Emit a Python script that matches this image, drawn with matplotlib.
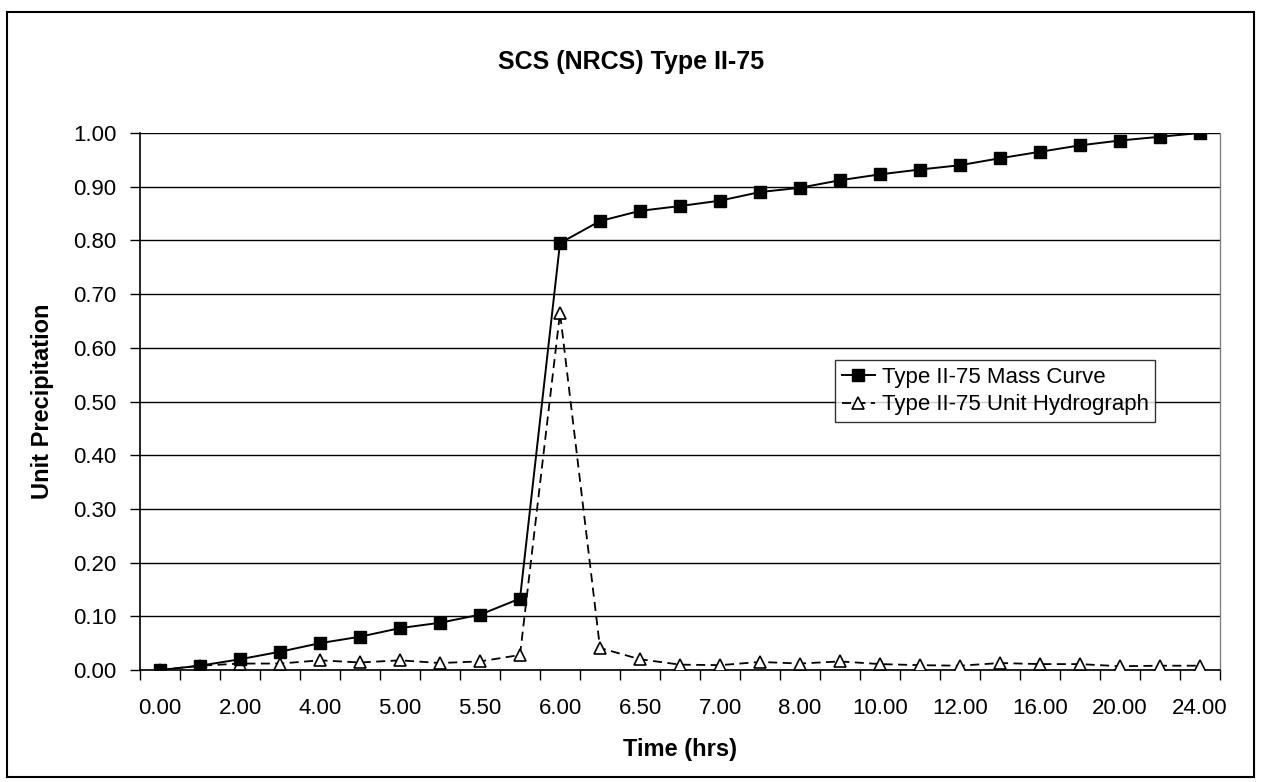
import numpy as np
import matplotlib
matplotlib.use('Agg')
matplotlib.rcParams['font.family'] = ['Liberation Sans', 'DejaVu Sans']
import matplotlib.pyplot as plt
from matplotlib.patches import Rectangle

# time categories (hrs); only every other one is labelled on the axis
times = ['0.00', '1.00', '2.00', '3.00', '4.00', '4.50', '5.00', '5.25', '5.50',
         '5.75', '6.00', '6.25', '6.50', '6.75', '7.00', '7.50', '8.00', '9.00',
         '10.00', '11.00', '12.00', '14.00', '16.00', '18.00', '20.00', '22.00', '24.00']

mass_curve = [0.000, 0.008, 0.020, 0.034, 0.050, 0.062, 0.078, 0.088, 0.103,
              0.133, 0.795, 0.836, 0.855, 0.864, 0.874, 0.890, 0.898, 0.912,
              0.923, 0.932, 0.940, 0.953, 0.965, 0.977, 0.986, 0.993, 1.000]

unit_hydro = [0.000, 0.008, 0.012, 0.012, 0.018, 0.014, 0.018, 0.013, 0.016,
              0.028, 0.665, 0.041, 0.020, 0.010, 0.009, 0.015, 0.012, 0.016,
              0.011, 0.009, 0.008, 0.013, 0.011, 0.011, 0.007, 0.008, 0.008]

y_ticks = [0.0, 0.1, 0.2, 0.3, 0.4, 0.5, 0.6, 0.7, 0.8, 0.9, 1.0]

fig = plt.figure(figsize=(12.62, 7.82), dpi=100)
ax = fig.add_axes([140 / 1262, 1 - 670 / 782, 1080 / 1262, 537 / 782])

x = np.arange(len(times))
ax.plot(x, mass_curve, color='black', lw=1.4, marker='s', markersize=8.5,
        markerfacecolor='black', markeredgecolor='black',
        label='Type II-75 Mass Curve', zorder=4)
ax.plot(x, unit_hydro, color='black', lw=1.3, linestyle=(0, (5, 3)), marker='^',
        markersize=8.5, markerfacecolor='white', markeredgecolor='black',
        markeredgewidth=1.2, label='Type II-75 Unit Hydrograph', zorder=3)

ax.set_xlim(-0.5, len(times) - 0.5)
ax.set_ylim(0, 1.0)
ax.set_yticks(y_ticks)
ax.set_yticklabels(['{:.2f}'.format(v) for v in y_ticks])
ax.yaxis.grid(True, color='black', lw=1.0)
ax.set_axisbelow(True)

# labels on every other category, tick marks on category boundaries
ax.set_xticks(x[::2])
ax.set_xticklabels(times[::2])
ax.tick_params(axis='x', which='major', length=0, pad=20, labelsize=16)
ax.set_xticks(np.arange(len(times) + 1) - 0.5, minor=True)
ax.tick_params(axis='x', which='minor', length=7, width=1, direction='out')
ax.tick_params(axis='y', length=7, width=1, direction='out', pad=10, labelsize=16)

for s in ['left', 'bottom']:
    ax.spines[s].set_color('black')
    ax.spines[s].set_linewidth(1.2)
ax.spines['top'].set_visible(False)
ax.spines['right'].set_color('#808080')
ax.spines['right'].set_linewidth(1.0)

ax.set_xlabel('Time (hrs)', fontsize=17, fontweight='bold', labelpad=14)
ax.set_ylabel('Unit Precipitation', fontsize=17, fontweight='bold', labelpad=14)

fig.text(0.5, 1 - 62 / 782, 'SCS (NRCS) Type II-75', fontsize=18,
         fontweight='bold', ha='center', va='center')

leg = ax.legend(loc='upper right', bbox_to_anchor=(0.94, 0.577), fontsize=16,
                frameon=True, fancybox=False, borderaxespad=0, handlelength=1.5,
                handletextpad=0.3, borderpad=0.3, labelspacing=0.3)
leg.get_frame().set_edgecolor('black')
leg.get_frame().set_linewidth(1.0)

# outer chart border
fig.patches.append(Rectangle((7 / 1262, 1 - 777 / 782), 1247 / 1262, 765 / 782,
                             transform=fig.transFigure, fill=False,
                             edgecolor='black', lw=1.5))

plt.savefig('out.png', dpi=100)
